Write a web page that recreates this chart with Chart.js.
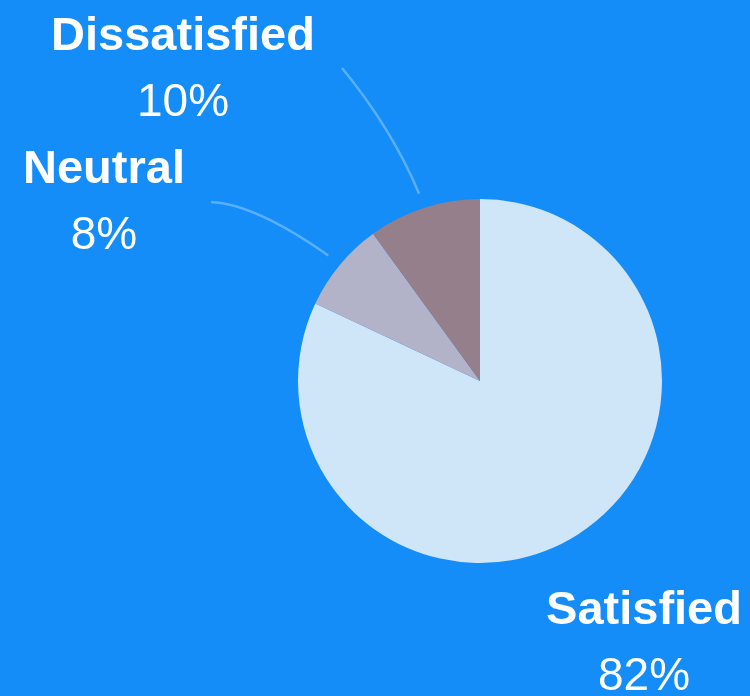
<!DOCTYPE html>
<html>
<head>
<meta charset="utf-8">
<title>Satisfaction</title>
<script src="https://cdn.jsdelivr.net/npm/chart.js@4/dist/chart.umd.min.js"></script>
<style>
    html, body { margin: 0; padding: 0; background: #148df8; }
    #satisfaction { display: block; }
</style>
</head>
<body>
<canvas id="satisfaction" width="750" height="696"></canvas>
<script>
(function(){
    'use strict';

    // ----data
    const categories = ['Satisfied', 'Neutral', 'Dissatisfied'];
    const shares = [82, 8, 10];
    const sliceColors = ['#cfe5f8', '#b2b2c8', '#957f8b'];

    // label spots, offset from the pie center (name baseline)
    const labelSpots = [
        { dx: 164, dy: 243, line: false },
        { dx: -376, dy: -198, line: true, end: [-269, -179], ctrl: [-225, -177] },
        { dx: -297, dy: -331, line: true, end: [-138, -313], ctrl: [-88, -252] }
    ];

    // draws the names, percents and curved leader lines
    const outsideLabels = {
        id: 'outsideLabels',
        afterDatasetsDraw(chart){
            const ctx = chart.ctx;
            const arcs = chart.getDatasetMeta(0).data;
            ctx.save();
            for(let i = 0; i < arcs.length; i++){
                const arc = arcs[i];
                const cx = arc.x;
                const cy = arc.y;
                const spot = labelSpots[i];

                if(spot.line){
                    const mid = (arc.startAngle + arc.endAngle) / 2;
                    const r = arc.outerRadius + 15;
                    ctx.beginPath();
                    ctx.moveTo(cx + Math.cos(mid) * r, cy + Math.sin(mid) * r);
                    ctx.quadraticCurveTo(cx + spot.ctrl[0], cy + spot.ctrl[1], cx + spot.end[0], cy + spot.end[1]);
                    ctx.strokeStyle = 'rgba(255,255,255,0.3)';
                    ctx.lineWidth = 2.5;
                    ctx.stroke();
                }

                ctx.fillStyle = '#ffffff';
                ctx.textAlign = 'center';
                ctx.textBaseline = 'alphabetic';
                ctx.font = 'bold 47px "Liberation Sans", Arial, sans-serif';
                ctx.fillText(categories[i], cx + spot.dx, cy + spot.dy);
                ctx.font = '46px "Liberation Sans", Arial, sans-serif';
                ctx.fillText(shares[i] + '%', cx + spot.dx, cy + spot.dy + 66);
            }
            ctx.restore();
        }
    };

    new Chart('satisfaction', {
        type: 'pie',
        data: {
            labels: categories,
            datasets: [{
                data: shares,
                backgroundColor: sliceColors,
                borderWidth: 0
            }]
        },
        options: {
            responsive: false,
            animation: false,
            layout: {
                padding: { left: 298, right: 88, top: 199, bottom: 133 }
            },
            plugins: {
                legend: { display: false },
                tooltip: { enabled: false }
            }
        },
        plugins: [outsideLabels]
    });
}());
</script>
</body>
</html>
